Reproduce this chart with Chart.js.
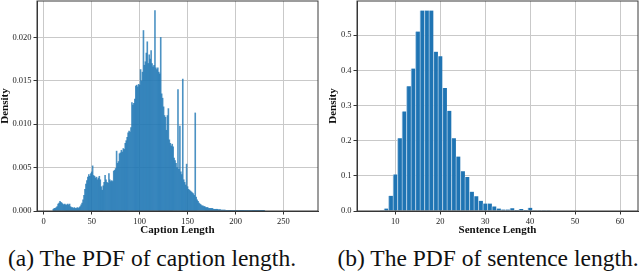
<!DOCTYPE html>
<html><head><meta charset="utf-8">
<script src="https://cdn.jsdelivr.net/npm/chart.js@4"></script>
<style>
html,body{margin:0;padding:0;background:#fff;width:640px;height:274px;overflow:hidden}
.box{position:absolute;top:0;width:320px;height:240px}
.cap{position:absolute;top:246px;font-family:"Liberation Serif",serif;font-size:23.5px;line-height:24px;white-space:nowrap;color:#111;transform:translateX(-50%)}
</style></head><body>
<div class="box" style="left:0"><canvas id="c1" width="320" height="240"></canvas></div>
<div class="box" style="left:320px"><canvas id="c2" width="320" height="240"></canvas></div>
<div class="cap" style="left:152px">(a) The PDF of caption length.</div>
<div class="cap" style="left:488px">(b) The PDF of sentence length.</div>
<script>
// ---- Data: caption length histogram ----
const captionLengths = [10,11,12,13,14,15,16,17,18,19,20,21,22,23,24,25,26,27,28,29,30,31,32,33,34,35,36,37,38,39,40,41,42,43,44,45,46,47,48,49,50,51,52,53,54,55,56,57,58,59,60,61,62,63,64,65,66,67,68,69,70,71,72,73,74,75,76,77,78,79,80,81,82,83,84,85,86,87,88,89,90,91,92,93,94,95,96,97,98,99,100,101,102,103,104,105,106,107,108,109,110,111,112,113,114,115,116,117,118,119,120,121,122,123,124,125,126,127,128,129,130,131,132,133,134,135,136,137,138,139,140,141,142,143,144,145,146,147,148,149,150,151,152,153,154,155,156,157,158,159,160,161,162,163,164,165,166,167,168,169,170,171,172,173,174,175,176,177,178,179,180,181,182,183,184,185,186,187,188,189,190,191,192,193,194,195,196,197,198,199,200,201,202,203,204,205,206,207,208,209,210,211,212,213,214,215,216,217,218,219,220,221,222,223,224,225,226,227,228,229,230];
const captionDensity = [
.0002,.0003,.0003,.0004,.0005,.0008,.0009,.0011,.0010,.0009,
.0008,.0007,.0008,.0007,.0007,.0008,.0007,.0008,.0005,.0004,
.0004,.0003,.0004,.0003,.0003,.0004,.0003,.0004,.0005,.0007,
.0009,.0013,.0018,.0025,.0031,.0035,.0039,.0042,.0040,.0043,
.0045,.0052,.0041,.0040,.0038,.0039,.0036,.0038,.0040,.0036,
.0028,.0024,.0029,.0033,.0041,.0036,.0033,.0032,.0043,.0036,
.0034,.0035,.0034,.0046,.0047,.0049,.0069,.0055,.0057,.0066,
.0067,.0070,.0068,.0072,.0071,.0078,.0081,.0085,.0090,.0092,
.0091,.0096,.0125,.0122,.0124,.0129,.0144,.0145,.0143,.0146,
.0145,.0163,.0150,.0160,.0208,.0168,.0172,.0182,.0195,.0170,
.0180,.0175,.0185,.0170,.0166,.0168,.0231,.0165,.0163,.0165,
.0160,.0158,.0200,.0135,.0130,.0120,.0110,.0108,.0093,.0110,
.0118,.0082,.0078,.0075,.0077,.0074,.0061,.0058,.0055,.0050,
.0140,.0048,.0098,.0045,.0042,.0152,.0036,.0033,.0030,.0054,
.0028,.0025,.0024,.0023,.0022,.0021,.0020,.0018,.0113,.0016,
.0013,.0011,.0009,.0008,.0007,.0006,.0006,.0005,.0005,.0004,
.0004,.0004,.0003,.0003,.0003,.0003,.0003,.0002,.0002,.0002,
.0002,.0002,.00015,.00015,.00015,.0001,.0001,.0001,.0001,.0001,
.00008,.00008,.00008,.00007,.00007,.00007,.00006,.00006,.00006,.00006,
.00006,.00005,.00005,.00005,.00005,.00004,.00004,.00004,.00004,.00004,
.00003,.00003,.00003,.00003,.00003,.00003,.00002,.00002,.00002,.00002,
.00002,.00002,.00002,.00002,.00002,.00002,.00002,.00002,.00002,.00002,.00002];
const captionXTicks = [0,50,100,150,200,250];
const captionYTicks = [0,0.005,0.010,0.015,0.020];

// ---- Data: sentence length histogram ----
const sentenceLengths = [7,8,9,10,11,12,13,14,15,16,17,18,19,20,21,22,23,24,25,26,27,28,29,30,31,32,33,34,35,36,37,38,39,40,41,42,43,44];
const sentenceDensity = [0.002,0.007,0.043,0.104,0.207,0.283,0.355,0.405,0.510,0.570,0.570,0.570,0.453,0.440,0.350,0.285,0.207,0.155,0.113,0.097,0.055,0.042,0.029,0.021,0.021,0.013,0.007,0.004,0.004,0.008,0.003,0.006,0.003,0.009,0.002,0.001,0.001,0.001];
const sentenceXTicks = [10,20,30,40,50,60];
const sentenceYTicks = [0,0.1,0.2,0.3,0.4,0.5];

const frame = {id:'frame', afterDraw(chart){
  const {ctx, chartArea:a} = chart;
  ctx.save(); ctx.strokeStyle='#3a3a3a'; ctx.lineWidth=1;
  ctx.strokeRect(a.left, a.top, a.right-a.left, a.bottom-a.top);
  ctx.restore();
}};

const tickFont = {family:'"Liberation Serif", serif', size:8.5};
const titleFont = {family:'"Liberation Serif", serif', size:11, weight:'bold', lineHeight:1};

function makeChart(id, xs, ys, o){
  return new Chart(document.getElementById(id), {
    type:'bar',
    data:{datasets:[{
      data: xs.map((x,i)=>({x:x, y:ys[i]})),
      backgroundColor:o.color, borderColor:o.edge, borderWidth:o.bw,
      barPercentage:1, categoryPercentage:1, borderSkipped:false
    }]},
    options:{
      responsive:false, animation:false, devicePixelRatio:1,
      layout:{padding:{top:1,right:2,left:0,bottom:0}},
      plugins:{legend:{display:false}, tooltip:{enabled:false}},
      scales:{
        x:{type:'linear', min:o.xmin, max:o.xmax, offset:false, z:1,
           afterBuildTicks:s=>{s.ticks=o.xticks.map(v=>({value:v}));},
           afterFit:s=>{s.height=29; s.paddingLeft=0; s.paddingRight=0;},
           ticks:{font:tickFont, color:'#222', padding:2.5, maxRotation:0, autoSkip:false},
           grid:{color:'#c9c9c9', lineWidth:1, tickColor:'#333', tickLength:3.5, offset:false},
           border:{display:true, color:'#333', width:1},
           title:{display:true, text:o.xtitle, font:titleFont, color:'#111', padding:{top:0,bottom:4}}},
        y:{min:0, max:o.ymax, z:1,
           afterBuildTicks:s=>{s.ticks=o.yticks.map(v=>({value:v}));},
           afterFit:s=>{s.width=37; s.paddingTop=0; s.paddingBottom=0;},
           ticks:{font:tickFont, color:'#222', padding:2, callback:v=>v.toFixed(o.dec)},
           grid:{color:'#c9c9c9', lineWidth:1, tickColor:'#333', tickLength:3.5},
           border:{display:true, color:'#333', width:1},
           title:{display:true, text:'Density', font:titleFont, color:'#111', padding:{top:o.ytp,bottom:0}}}
      }
    },
    plugins:[frame]
  });
}

makeChart('c1', captionLengths, captionDensity, {
  color:'rgba(31,119,180,0.8)', edge:'rgba(0,0,0,0)', bw:0,
  xmin:-7, xmax:286, ymax:0.0242, xticks:captionXTicks, yticks:captionYTicks, dec:3,
  xtitle:'Caption Length', ytp:0});
makeChart('c2', sentenceLengths, sentenceDensity, {
  color:'#1f74b3', edge:'#a3c6e2', bw:{left:1,right:0,top:0,bottom:0},
  xmin:1.5, xmax:64, ymax:0.597, xticks:sentenceXTicks, yticks:sentenceYTicks, dec:1,
  xtitle:'Sentence Length', ytp:7.5});
</script>
</body></html>
